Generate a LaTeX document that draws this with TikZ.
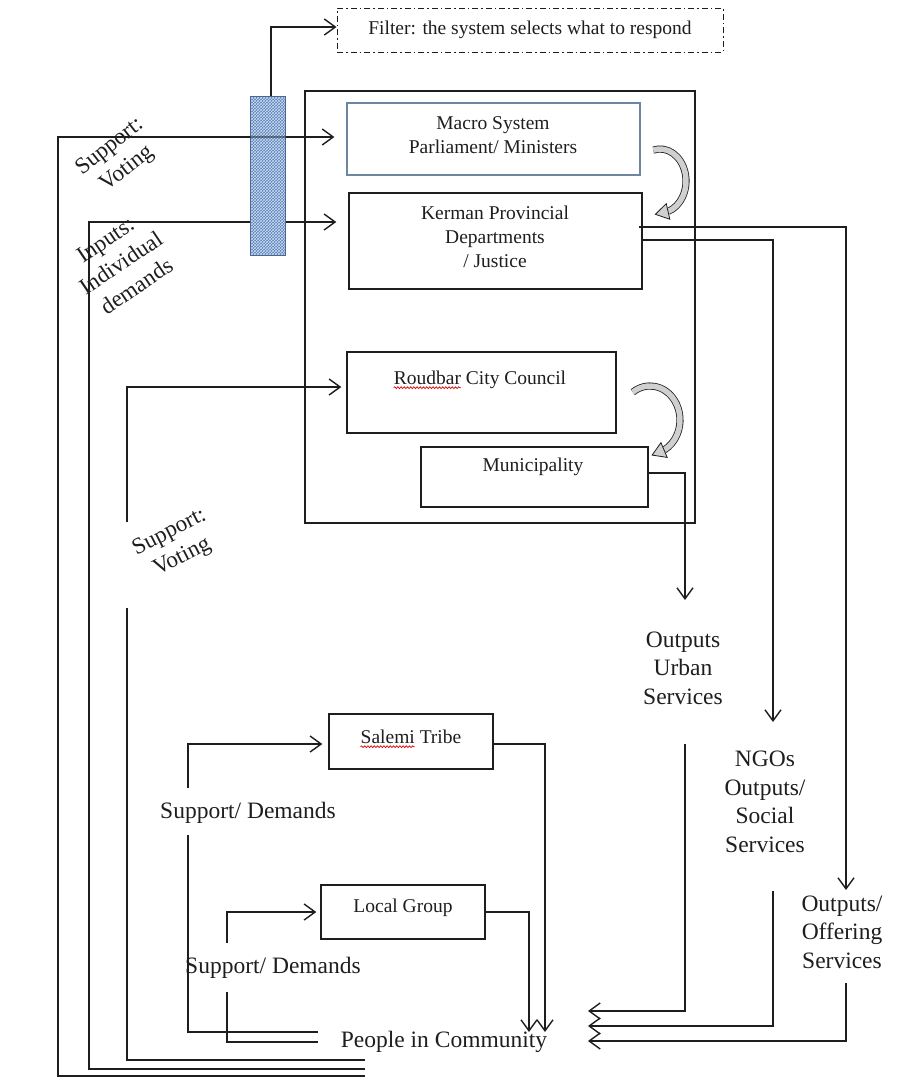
\documentclass[tikz,border=0pt]{standalone}
\usepackage{fontspec}
\setmainfont{Liberation Serif}
\usetikzlibrary{arrows.meta,calc,patterns,decorations.pathmorphing}
\definecolor{barblue}{RGB}{88,128,184}
\definecolor{barlight}{RGB}{205,222,242}
\definecolor{baredge}{RGB}{72,102,150}
\definecolor{macroedge}{RGB}{110,135,160}
\definecolor{bendfill}{RGB}{208,208,208}
\definecolor{ink}{RGB}{30,30,30}

\newlength\roudbarwd
\newlength\salemiwd
\newcommand\smallfont{\fontsize{19.5}{24}\selectfont}

% curved hollow arrow along an ellipse: centre x, centre y, x radius, y radius, start angle, end angle
\newcommand\bendarrow[6]{%
  \path (#1,#2) ++(#6:#3 and #4) coordinate (bP)
        (#1,#2) ++(#6+15:#3 and #4) coordinate (bQ);
  \draw[bendbody] (#1,#2) ++(#5:#3 and #4)
     arc[start angle=#5, end angle=#6, x radius=#3, y radius=#4];
  \coordinate (bT) at ($(bP)!13pt!(bQ)$);
  \draw[line width=0.8pt, draw=ink, fill=bendfill, line join=miter]
     ($(bP)!8pt!90:(bQ)$) -- (bT) -- ($(bP)!8pt!-90:(bQ)$) -- cycle;
}

\begin{document}
\settowidth\roudbarwd{\smallfont Roudbar}%
\settowidth\salemiwd{\smallfont Salemi}%
\begin{tikzpicture}[x=1pt,y=-1pt,
  every node/.style={text=ink, inner sep=0pt},
  box/.style={draw=ink, line width=1.4pt, inner sep=0pt},
  wire/.style={draw=ink, line width=1.4pt},
  conn/.style={wire, -{Straight Barb[length=11pt,width=16pt,line width=1.4pt]}},
  small/.style={font=\smallfont, align=center},
  big/.style={font=\fontsize{23.5}{28.5}\selectfont, align=center},
  tilted/.style={font=\fontsize{23}{28}\selectfont, align=center},
  squiggle/.style={draw=red!85!black, line width=0.7pt, decorate,
     decoration={snake, amplitude=0.9pt, segment length=3.2pt}},
  bendbody/.style={draw=ink, line width=0.8pt, double=bendfill, double distance=5.5pt},
]
\useasboundingbox (0,0) rectangle (912,1088);

% ---- filter note
\node[small, draw=ink, line width=1pt, dash pattern=on 6pt off 3pt on 1.5pt off 3pt,
      minimum width=386pt, minimum height=44pt] (filter) at (530,30)
      {Filter: the system selects what to respond};

% ---- political system and its bodies
\node[box, minimum width=390pt, minimum height=432pt] (system) at (500,307) {};
\node[box, draw=macroedge, line width=1.2pt, minimum width=293pt, minimum height=72pt] (macro) at (493.5,139) {};
\node[small] (macrotext) at (493,135) {Macro System\\Parliament/ Ministers};
\node[box, minimum width=293pt, minimum height=96pt] (kerman) at (495.5,241) {};
\node[small] (kermantext) at (495,237) {Kerman Provincial\\Departments\\/ Justice};
\node[box, minimum width=269pt, minimum height=81pt] (roudbar) at (481.5,392.5) {};
\node[small] (roudbartext) at (480,380) {Roudbar City Council};
\draw[squiggle] ([yshift=-3pt]roudbartext.base west) -- ([yshift=-3pt,xshift=\roudbarwd]roudbartext.base west);
\node[box, minimum width=227pt, minimum height=60pt] (municipality) at (534.5,477) {};
\node[small] (municipalitytext) at (533,467) {Municipality};

% ---- community groups
\node[box, minimum width=164pt, minimum height=55pt] (salemi) at (411,741.5) {};
\node[small] (salemitext) at (411,737) {Salemi Tribe};
\draw[squiggle] ([yshift=-3pt]salemitext.base west) -- ([yshift=-3pt,xshift=\salemiwd]salemitext.base west);
\node[box, minimum width=164pt, minimum height=54pt] (local) at (403,912) {};
\node[small] (localtext) at (403,908) {Local Group};
\node[big] (people) at (444,1042) {People in Community};

% ---- labels
\node[tilted, rotate=38] (sv1) at (119,158) {Support:\\Voting};
\node[tilted, rotate=34] (inp) at (121,263) {Inputs:\\Individual\\demands};
\node[tilted, rotate=27] (sv2) at (176,545) {Support:\\Voting};
\node[big] (urban) at (683,668) {Outputs\\Urban\\Services};
\node[big] (ngo) at (765,802) {NGOs\\Outputs/\\Social\\Services};
\node[big] (offer) at (842,932) {Outputs/\\Offering\\Services};
\node[big] (sd1) at (248,813) {Support/ Demands};
\node[big] (sd2) at (273,968) {Support/ Demands};

% ---- inputs from the community
\coordinate (pA) at (365,1076);
\coordinate (pB) at (365,1069);
\coordinate (pC) at (365,1060);
\coordinate (pD) at (318,1032);
\coordinate (pE) at (318,1042);
\draw[conn] (pA) -| (58,137) -- ([xshift=-12pt,yshift=2pt]macro.west);
\draw[conn] (pB) -| (89,222) -- ([xshift=-12pt,yshift=19pt]kerman.west);
\draw[wire] (pC) -| (127,608);
\draw[conn] (127,522) |- ([xshift=-5pt,yshift=5.5pt]roudbar.west);
\draw[wire] (pD) -| (188,835);
\draw[conn] (188,788) |- ([xshift=-6pt,yshift=-2.5pt]salemi.west);
\draw[wire] (pE) -| (227,992);
\draw[conn] (227,943) |- ([xshift=-4pt]local.west);

% ---- group feedback to people
\draw[conn] ([yshift=-2.5pt]salemi.east) -| (545,1032);
\draw[conn] (local.east) -| (529,1032);

% ---- outputs
\draw[conn] ([yshift=4pt]municipality.east) -| (685,600);
\draw[conn] (685,744) |- (588,1011);
\draw[conn] ([yshift=1pt]kerman.east) -| (773,722);
\draw[conn] (773,891) |- (588,1026);
\draw[conn] ([xshift=-4pt,yshift=14pt]kerman.east) -| (846,890);
\draw[conn] (846,983) |- (588,1041);

% ---- filter bar
\node[draw=baredge, line width=1pt, minimum width=35pt, minimum height=159pt,
      preaction={fill=barblue}, pattern=crosshatch, pattern color=barlight] (bar) at (267.5,175.5) {};
\draw[ink, line width=1.4pt, opacity=0.5] (bar.west |- 0,137) -- (bar.east |- 0,137);
\draw[conn] ([xshift=3.5pt]bar.north) |- ([yshift=3pt]filter.west);

% ---- transfer arrows between levels
\bendarrow{660}{181}{26}{32}{-105}{72}
\bendarrow{650}{420}{30}{34}{-125}{62}

\end{tikzpicture}
\end{document}
